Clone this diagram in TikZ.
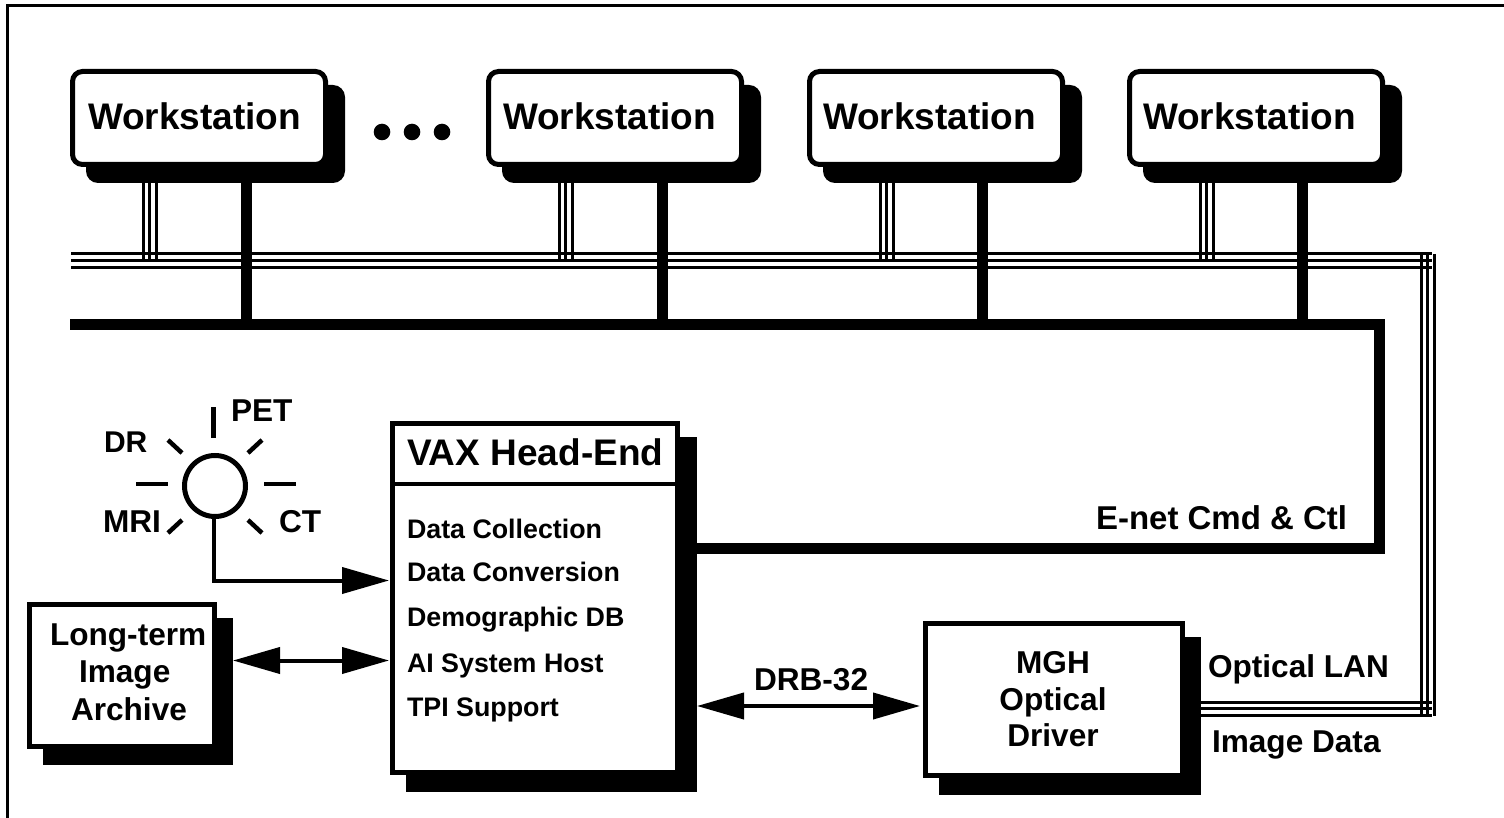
\documentclass[tikz,border=0pt]{standalone}
\usepackage{fontspec}
\setmainfont{Liberation Sans}
\usetikzlibrary{arrows.meta}
\newcommand{\sz}[1]{\fontsize{#1}{#1}\selectfont\bfseries}
\tikzset{
  x=1pt,y=-1pt,
  every node/.style={inner sep=0pt,outer sep=0pt},
  shadowbox/.style={fill=black,anchor=north west},
  plainbox/.style={draw=black,fill=white,line width=5pt,anchor=north west},
  wsshadow/.style={shadowbox,minimum width=259pt,minimum height=98pt,rounded corners=12pt},
  wsbox/.style={plainbox,minimum width=253pt,minimum height=93pt,rounded corners=10pt},
  boxlabel/.style={font=\sz{37},anchor=base west},
  label31/.style={font=\sz{31.6},anchor=base west},
  listlabel/.style={font=\sz{26.8},anchor=base west},
  heavy/.style={line width=11pt},
  fine/.style={line width=3pt},
  ray/.style={line width=4.5pt},
  wire/.style={line width=4pt},
  headR/.style={-{Triangle[length=47pt,width=26pt]}},
  headB/.style={{Triangle[length=47pt,width=26pt]}-{Triangle[length=47pt,width=26pt]}},
}
\begin{document}
\begin{tikzpicture}
\useasboundingbox (0,0) rectangle (1504,818);
% frame
\coordinate (fa) at (7,818); \coordinate (fb) at (7,6); \coordinate (fc) at (1504,6);
\draw[line width=3pt,line join=miter] (fa) -- (fb) -- (fc);
% optical LAN lines
\foreach \y in {254,260.5,267.5}{
  \coordinate (la) at (71,\y); \coordinate (lb) at (1432,\y);
  \draw[fine] (la) -- (lb);}
\foreach \y in {702,708,715}{
  \coordinate (la) at (1195,\y); \coordinate (lb) at (1432,\y);
  \draw[fine] (la) -- (lb);}
\foreach \x in {1421,1427,1434}{
  \coordinate (la) at (\x,254); \coordinate (lb) at (\x,716);
  \draw[fine] (la) -- (lb);}
% E-net bus
\coordinate (busL) at (70,324.5);
\coordinate (busR) at (1379.5,324.5);
\coordinate (busD) at (1379.5,548.5);
\coordinate (busV) at (690,548.5);
\draw[heavy,line join=miter] (busL) -- (busR) -- (busD) -- (busV);
% workstation stems
\foreach \l/\s in {70/246.5,486/662.5,807/982.5,1127/1302.5}{
  \coordinate (st) at (\s,175); \coordinate (sb) at (\s,324);
  \draw[heavy] (st) -- (sb);
  \foreach \o in {73,79,86}{
    \coordinate (ta) at ({\l+\o},175); \coordinate (tb) at ({\l+\o},262);
    \draw[fine] (ta) -- (tb);}
}
% workstations
\node[wsshadow] (ws1s) at (86,85) {};
\node[wsbox] (ws1) at (72.5,71.5) {};
\node[boxlabel] (ws1t) at (88,130) {Workstation};
\node[wsshadow] (ws2s) at (502,85) {};
\node[wsbox] (ws2) at (488.5,71.5) {};
\node[boxlabel] (ws2t) at (503,130) {Workstation};
\node[wsshadow] (ws3s) at (823,85) {};
\node[wsbox] (ws3) at (809.5,71.5) {};
\node[boxlabel] (ws3t) at (823,130) {Workstation};
\node[wsshadow] (ws4s) at (1143,85) {};
\node[wsbox] (ws4) at (1129.5,71.5) {};
\node[boxlabel] (ws4t) at (1143,130) {Workstation};
% dots
\node[circle,fill=black,minimum size=16.6pt] (d1) at (382,132) {};
\node[circle,fill=black,minimum size=16.6pt] (d2) at (412,132) {};
\node[circle,fill=black,minimum size=16.6pt] (d3) at (442,132) {};
% modalities
\node[circle,draw=black,line width=5pt,minimum size=61pt] (sun) at (215,486) {};
\coordinate (r1a) at (213.5,407); \coordinate (r1b) at (213.5,438); \draw[ray] (r1a) -- (r1b);
\coordinate (r2a) at (136,484); \coordinate (r2b) at (168,484); \draw[ray] (r2a) -- (r2b);
\coordinate (r3a) at (264,484); \coordinate (r3b) at (296,484); \draw[ray] (r3a) -- (r3b);
\coordinate (r4a) at (168,440); \coordinate (r4b) at (182,453); \draw[ray] (r4a) -- (r4b);
\coordinate (r5a) at (262,440); \coordinate (r5b) at (248,453); \draw[ray] (r5a) -- (r5b);
\coordinate (r6a) at (182,520); \coordinate (r6b) at (168,533); \draw[ray] (r6a) -- (r6b);
\coordinate (r7a) at (248,520); \coordinate (r7b) at (262,533); \draw[ray] (r7a) -- (r7b);
\node[label31] (pet) at (231,421) {PET};
\node[label31,font=\sz{30}] (dr) at (104,452) {DR};
\node[label31] (mri) at (103,532) {MRI};
\node[label31] (ct) at (279,532) {CT};
% VAX
\node[shadowbox,minimum width=291pt,minimum height=355pt] (vaxs) at (406,437) {};
\node[plainbox,minimum width=285pt,minimum height=349pt] (vax) at (392.5,423.5) {};
\coordinate (divL) at (392.5,484); \coordinate (divR) at (677.5,484);
\draw[line width=4pt] (divL) -- (divR);
\node[boxlabel] (vaxt) at (407,465) {VAX Head-End};
\node[listlabel] (l1) at (407,538) {Data Collection};
\node[listlabel] (l2) at (407,581) {Data Conversion};
\node[listlabel] (l3) at (407,626) {Demographic DB};
\node[listlabel] (l4) at (407,672) {AI System Host};
\node[listlabel] (l5) at (407,716) {TPI Support};
\node[label31,font=\sz{33}] (enet) at (1096,529) {E-net Cmd \& Ctl};
% archive
\node[shadowbox,minimum width=190pt,minimum height=147pt] (archs) at (43,618) {};
\node[plainbox,minimum width=185pt,minimum height=142pt] (arch) at (29.5,604.5) {};
\node[label31] (a1) at (50,645) {Long-term};
\node[label31] (a2) at (79,682) {Image};
\node[label31] (a3) at (71,720) {Archive};
% MGH
\node[shadowbox,minimum width=262pt,minimum height=158pt] (mghs) at (939,637) {};
\node[plainbox,minimum width=257pt,minimum height=152pt] (mgh) at (925.5,623.5) {};
\node[label31,anchor=base] (m1) at (1053,673) {MGH};
\node[label31,anchor=base] (m2) at (1053,710) {Optical};
\node[label31,anchor=base] (m3) at (1053,746) {Driver};
\node[label31] (ol) at (1208,677) {Optical LAN};
\node[label31] (id) at (1212,752) {Image Data};
% arrows
\coordinate (c1) at (213.5,519); \coordinate (c2) at (213.5,582.5);
\draw[wire] (c1) -- (c2);
\coordinate (c3) at (216,580.5); \coordinate (c4) at (389,580.5);
\draw[wire,headR] (c3) -- (c4);
\coordinate (b1) at (233,660.5); \coordinate (b2) at (389,660.5);
\draw[wire,headB] (b1) -- (b2);
\coordinate (e1) at (697,706); \coordinate (e2) at (920,706);
\draw[wire,headB] (e1) -- (e2);
\node[label31] (drb) at (754,690) {DRB-32};
\end{tikzpicture}
\end{document}
